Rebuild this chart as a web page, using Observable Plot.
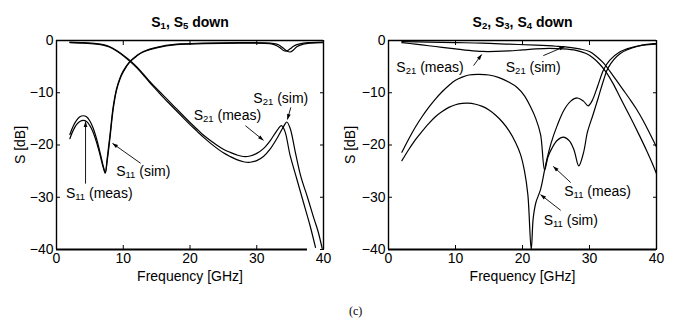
<!DOCTYPE html>
<html><head><meta charset="utf-8">
<script src="https://cdn.jsdelivr.net/npm/d3@7"></script>
<script src="https://cdn.jsdelivr.net/npm/@observablehq/plot@0.6"></script>
<style>
body{margin:0;background:#fff;}
#wrap{position:relative;width:678px;height:322px;background:#fff;overflow:hidden;}
#left{position:absolute;left:0;top:0;}
#right{position:absolute;left:340px;top:0;}
#cap{position:absolute;left:349px;top:304px;font-family:"Liberation Serif","Times New Roman",serif;font-size:12px;color:#000;}
</style></head><body>
<div id="wrap"><div id="left"></div><div id="right"></div><div id="cap">(c)</div></div>
<script>
// ---------------- data ----------------
const xTicks = [0, 10, 20, 30, 40];
const yTicks = [0, -10, -20, -30, -40];
const titles = ["S₁, S₅ down", "S₂, S₃, S₄ down"];
const xLabel = "Frequency [GHz]";
const yLabel = "S [dB]";
const p1BottomFrameEnd = 37.6; // bottom border of left panel stops here

// Panel 1: S1, S5 down
const p1S21MeasF  = [2,4,6,7,8,9,10,11,12,13,14,15,16,17,18,19,20,21,22,23,24,25,26,27,28,29,30,31,32,33,33.7,34.2,35,36,37,38,38.8];
const p1S21MeasDB = [-0.3,-0.4,-0.6,-0.8,-1.2,-1.9,-2.8,-3.8,-5.0,-6.4,-7.9,-9.2,-10.5,-11.8,-13.1,-14.4,-15.7,-16.9,-18.1,-19.1,-20.0,-20.8,-21.4,-21.9,-22.2,-22.1,-21.6,-20.7,-19.2,-17.3,-16.3,-17.3,-22.0,-26.5,-31.0,-35.5,-39.6];
const p1S21SimF   = [2,4,6,7,8,9,10,11,12,13,14,15,16,17,18,19,20,21,22,23,24,25,26,27,28,29,30,31,32,33,34,34.5,35,35.8,36.6,37.6,38.5,39.2,39.8];
const p1S21SimDB  = [-0.4,-0.5,-0.7,-0.9,-1.3,-2.0,-2.9,-4.0,-5.2,-6.6,-8.1,-9.5,-10.9,-12.2,-13.5,-14.8,-16.1,-17.3,-18.5,-19.6,-20.6,-21.5,-22.2,-22.8,-23.2,-23.3,-23.0,-22.2,-20.8,-18.8,-16.5,-15.6,-16.8,-21.5,-26.0,-30.0,-33.8,-36.6,-39.8];
const p1S11F      = [2,2.5,3,3.5,4,4.5,5,5.5,6,6.5,7,7.3,7.6,8,8.5,9,9.5,10,11,12,13,15,18,22,28,32,33,33.5,34,34.5,35,35.5,36,37,38,40];
const p1S11SimDB  = [-18.0,-16.4,-15.3,-14.6,-14.4,-14.6,-15.4,-16.8,-18.8,-21.3,-24.0,-25.3,-22.5,-18.2,-12.6,-9.2,-7.2,-5.8,-4.0,-2.9,-2.1,-1.3,-0.7,-0.5,-0.4,-0.5,-0.7,-1.0,-1.5,-2.0,-2.2,-1.8,-1.2,-0.7,-0.5,-0.4];
const p1S11MeasDB = [-18.8,-17.2,-16.1,-15.5,-15.3,-15.5,-16.3,-17.6,-19.5,-21.8,-24.3,-25.4,-23.0,-18.8,-13.1,-9.5,-7.4,-6.0,-4.1,-3.0,-2.2,-1.4,-0.8,-0.6,-0.5,-0.6,-1.0,-1.4,-1.9,-2.0,-1.6,-1.1,-0.8,-0.5,-0.4,-0.3];

// Panel 2: S2, S3, S4 down
const p2S21SimF   = [2,6,10,14,18,22,25,27,28.5,30,31,32,33,34,35,36,37,38,39,40];
const p2S21SimDB  = [-0.2,-0.3,-0.4,-0.5,-0.7,-0.9,-1.1,-1.3,-1.6,-2.1,-3.0,-4.2,-5.8,-7.6,-9.4,-11.2,-13.1,-15.3,-17.8,-20.4];
const p2S21MeasF  = [2,4,6,8,10,12,14,16,18,20,22,24,26,28,29.5,30.5,31.5,32.5,33.5,34.5,35.5,36.5,37.5,38.5,39.3,40];
const p2S21MeasDB = [-0.4,-0.7,-1.0,-1.3,-1.6,-1.9,-2.1,-2.1,-2.0,-1.8,-1.6,-1.5,-1.6,-1.9,-2.5,-3.3,-4.5,-6.1,-8.2,-10.7,-13.2,-15.7,-18.3,-21.0,-23.3,-25.5];
const p2S11MeasF  = [2,3,4,5,6,7,8,9,10,11,12,13.4,15,16.5,18,19.2,20.3,21.2,22,22.7,23.3,23.8,24.4,25.2,26.1,27,27.7,28.4,29.1,29.7,30.5,31.3,32.1,32.8,34.6,37.2,39.6,40];
const p2S11MeasDB = [-21.4,-18.9,-16.6,-14.6,-12.8,-11.2,-9.8,-8.6,-7.6,-7.0,-6.6,-6.5,-6.6,-7.1,-8.0,-9.0,-10.6,-12.7,-15.0,-18.0,-24.8,-22.3,-20.6,-19.1,-18.5,-19.2,-21.0,-24.0,-21.5,-17.5,-14.3,-11.0,-7.6,-5.2,-2.5,-1.1,-0.6,-0.6];
const p2S11SimF   = [2,3,4,5,6,7,8,9,10,11,11.8,13,14,15,16,17,18,19,19.7,20.3,20.8,21.3,21.6,22,22.7,23.5,24.3,25.2,26.2,27.2,28.2,29.1,29.8,30.4,31.2,32.1,33,34.5,36.1,38,40];
const p2S11SimDB  = [-23.0,-20.9,-19.0,-17.4,-15.9,-14.6,-13.6,-12.8,-12.3,-12.05,-12.0,-12.2,-12.6,-13.3,-14.3,-15.6,-17.3,-19.6,-21.8,-25.0,-29.5,-40.0,-34.0,-31.0,-28.5,-23.5,-19.5,-16.2,-13.3,-11.6,-11.0,-11.6,-12.5,-11.5,-8.8,-5.6,-3.8,-2.2,-1.4,-0.9,-0.7];

// annotation labels (text position and arrow from -> to, in GHz / dB)
const p1Notes = [
  {label: "S₂₁ (sim)",  x: 33.6, y: -11.1, ax1: 35.1, ay1: -12.8, ax2: 34.6, ay2: -15.1},
  {label: "S₂₁ (meas)", x: 25.6, y: -14.4, ax1: 28.3, ay1: -16.3, ax2: 31.0, ay2: -19.1},
  {label: "S₁₁ (sim)",  x: 13.0, y: -25.1, ax1: 12.6, ay1: -23.5, ax2: 8.4,  ay2: -19.7},
  {label: "S₁₁ (meas)", x: 6.4,  y: -29.3, ax1: 4.35, ay1: -27.4, ax2: 4.35, ay2: -15.5}
];
const p2Notes = [
  {label: "S₂₁ (meas)", x: 6.2,  y: -5.2,  ax1: 12.7, ay1: -4.8,  ax2: 13.9, ay2: -2.7},
  {label: "S₂₁ (sim)",  x: 21.6, y: -5.2,  ax1: 23.1, ay1: -2.9,  ax2: 26.3, ay2: -1.15},
  {label: "S₁₁ (meas)", x: 31.2, y: -28.9, ax1: 27.2, ay1: -27.2, ax2: 24.6, ay2: -24.1},
  {label: "S₁₁ (sim)",  x: 27.2, y: -34.4, ax1: 25.7, ay1: -32.5, ax2: 22.7, ay2: -29.5}
];

// ---------------- drawing ----------------
const FONT = '"Liberation Sans", Arial, Helvetica, sans-serif';
const rows = (f, v, key) => f.map((x, i) => ({f: x, s: v[i], key}));
const fmtY = d => d === 0 ? "0" : "\u2212" + Math.abs(d);

function panel({width, ml, mr, title, series, notes, bottomEnd, labelOffsetY}) {
  const data = series.flatMap(s => rows(s.f, s.v, s.key));
  return Plot.plot({
    width, height: 285,
    marginLeft: ml, marginRight: mr, marginTop: 40, marginBottom: 36,
    x: {domain: [xTicks[0], xTicks[xTicks.length - 1]]},
    y: {domain: [yTicks[yTicks.length - 1], yTicks[0]]},
    style: {fontFamily: FONT, fontSize: "14px", color: "black", background: "white", overflow: "visible"},
    marks: [
      Plot.line(data, {x: "f", y: "s", z: "key", stroke: "black", strokeWidth: 1.2, curve: "catmull-rom", clip: true}),
      // box
      Plot.ruleX([xTicks[0], xTicks[xTicks.length - 1]], {stroke: "black", strokeWidth: 1.4}),
      Plot.ruleY([yTicks[0]], {stroke: "black", strokeWidth: 1.4}),
      Plot.ruleY([yTicks[yTicks.length - 1]], {x1: xTicks[0], x2: bottomEnd, stroke: "black", strokeWidth: 1.8}),
      // inward ticks on all four sides
      Plot.axisX(xTicks, {anchor: "bottom", tickSize: -4, tickFormat: () => "", label: null}),
      Plot.axisX(xTicks, {anchor: "top", tickSize: -4, tickFormat: () => "", label: null}),
      Plot.axisY(yTicks, {anchor: "left", tickSize: -4, tickFormat: () => "", label: null}),
      Plot.axisY(yTicks, {anchor: "right", tickSize: -4, tickFormat: () => "", label: null}),
      // tick labels and axis labels
      Plot.axisX(xTicks, {anchor: "bottom", tickSize: 0, tickPadding: 4, tickFormat: d => String(d),
        label: xLabel, labelArrow: "none", labelAnchor: "center", labelOffset: 31, fontSize: 14}),
      Plot.axisY(yTicks, {anchor: "left", tickSize: 0, tickPadding: 3, tickFormat: fmtY,
        label: yLabel, labelArrow: "none", labelAnchor: "center", labelOffset: labelOffsetY, fontSize: 14}),
      // title
      Plot.text([title], {frameAnchor: "top", dy: -23, text: d => d, fontWeight: "bold", fontSize: 14}),
      // annotations
      Plot.link(notes, {x1: "ax1", y1: "ay1", x2: "ax2", y2: "ay2", stroke: "black", strokeWidth: 0.9, markerEnd: "arrow"}),
      Plot.text(notes, {x: "x", y: "y", text: "label", fontSize: 14})
    ]
  });
}

const left = panel({
  width: 340, ml: 56, mr: 17, title: titles[0], bottomEnd: p1BottomFrameEnd, labelOffsetY: 41,
  series: [
    {key: "s21m", f: p1S21MeasF, v: p1S21MeasDB},
    {key: "s21s", f: p1S21SimF, v: p1S21SimDB},
    {key: "s11s", f: p1S11F, v: p1S11SimDB},
    {key: "s11m", f: p1S11F, v: p1S11MeasDB}
  ],
  notes: p1Notes
});
const right = panel({
  width: 338, ml: 48, mr: 22, title: titles[1], bottomEnd: xTicks[xTicks.length - 1], labelOffsetY: 43,
  series: [
    {key: "s21m", f: p2S21MeasF, v: p2S21MeasDB},
    {key: "s21s", f: p2S21SimF, v: p2S21SimDB},
    {key: "s11m", f: p2S11MeasF, v: p2S11MeasDB},
    {key: "s11s", f: p2S11SimF, v: p2S11SimDB}
  ],
  notes: p2Notes
});
document.getElementById("left").appendChild(left);
document.getElementById("right").appendChild(right);

// subscript digits -> small lowered tspans
const subs = {"₀":"0","₁":"1","₂":"2","₃":"3","₄":"4","₅":"5","₆":"6","₇":"7","₈":"8","₉":"9"};
const NS = "http://www.w3.org/2000/svg";
document.querySelectorAll("#wrap svg text").forEach(t => {
  if (t.children.length) return;
  const s = t.textContent;
  if (![...s].some(c => subs[c])) return;
  const runs = [];
  for (const c of s) {
    const isSub = !!subs[c];
    if (runs.length && runs[runs.length - 1].sub === isSub) runs[runs.length - 1].text += isSub ? subs[c] : c;
    else runs.push({sub: isSub, text: isSub ? subs[c] : c});
  }
  t.textContent = "";
  let prevSub = false;
  for (const r of runs) {
    const ts = document.createElementNS(NS, "tspan");
    ts.textContent = r.text;
    if (r.sub) { ts.setAttribute("font-size", "0.68em"); ts.setAttribute("dy", "2"); }
    else if (prevSub) ts.setAttribute("dy", "-2");
    prevSub = r.sub;
    t.appendChild(ts);
  }
});
// filled arrow heads
document.querySelectorAll("#wrap svg marker").forEach(m => {
  m.setAttribute("overflow", "visible");
  m.setAttribute("markerWidth", "8");
  m.setAttribute("markerHeight", "8");
  m.setAttribute("fill", "black");
  m.setAttribute("stroke", "none");
  const p = m.querySelector("path");
  if (p) p.setAttribute("d", "M-7.5,-2.6L0.5,0L-7.5,2.6Z");
});
</script>
</body></html>
